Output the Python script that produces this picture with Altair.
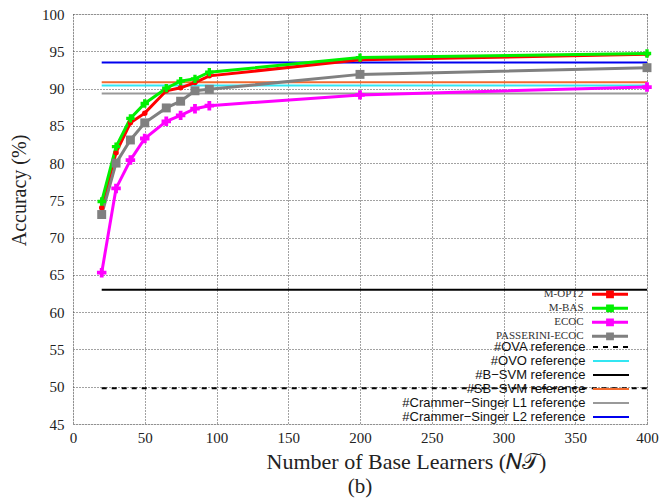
import altair as alt
import pandas as pd

# ---- data ----
learners = [20, 30, 40, 50, 65, 75, 85, 95, 200, 400]
models = ["M-OPT2", "M-BAS", "ECOC", "PASSERINI-ECOC"]
acc_mopt2 = [74.0, 81.4, 85.4, 86.7, 89.7, 90.1, 90.8, 91.7, 93.85, 94.6]
acc_mbas = [74.85, 82.2, 86.0, 88.0, 90.05, 91.0, 91.3, 92.2, 94.15, 94.7]
acc_ecoc = [65.3, 76.6, 80.4, 83.3, 85.6, 86.4, 87.3, 87.7, 89.15, 90.2]
acc_pass = [73.1, 80.0, 83.1, 85.4, 87.4, 88.3, 89.7, 89.9, 91.9, 92.8]

ref_names = ["#OVA reference", "#OVO reference", "#B\u2212SVM reference",
             "#SB\u2212SVM reference", "#Crammer\u2212Singer L1 reference",
             "#Crammer\u2212Singer L2 reference"]
ref_values = [49.8, 90.4, 63.0, 90.85, 89.35, 93.5]
ref_start = 20
ref_end = 400

x_ticks = list(range(0, 401, 50))
y_ticks = list(range(45, 101, 5))

model_colors = ["#ff0000", "#00f000", "#ff00ff", "#808080"]
model_shapes = ["circle", "cross", "cross", "square"]
model_sizes = [30, 70, 90, 80]
ref_colors = ["#000000", "#33e6f2", "#000000", "#f26a2e", "#999999", "#0000ee"]
ref_dashes = [[5, 5], [1, 0], [1, 0], [1, 0], [1, 0], [1, 0]]

rows = []
for name, vals in zip(models, [acc_mopt2, acc_mbas, acc_ecoc, acc_pass]):
    for x, y in zip(learners, vals):
        rows.append({"model": name, "n": x, "acc": y})
df = pd.DataFrame(rows)

ref_df = pd.DataFrame({"ref": ref_names, "acc": ref_values,
                       "x0": [ref_start] * len(ref_names),
                       "x1": [ref_end] * len(ref_names)})

SERIF = "Liberation Serif"

xscale = alt.Scale(domain=[0, 400], nice=False)
yscale = alt.Scale(domain=[45, 100], nice=False, zero=False)


def xaxis():
    return alt.Axis(values=x_ticks, title="Number of Base Learners (\U0001D441\U0001D4AF)",
                    labelFont=SERIF, labelFontSize=15, labelColor="#222",
                    titleFont=SERIF, titleFontSize=22, titleFontWeight="normal",
                    titleColor="#222", titlePadding=6, labelPadding=6,
                    titleX=333, titleAnchor="start", titleAlign="center",
                    ticks=False, domain=False, grid=True, gridColor="#444",
                    gridDash=[1, 2], gridWidth=1, labelFlush=False, labelOverlap=False)


def yaxis():
    return alt.Axis(values=y_ticks, title="Accuracy (%)",
                    labelFont=SERIF, labelFontSize=15, labelColor="#222",
                    titleFont=SERIF, titleFontSize=20, titleFontWeight="normal",
                    titleColor="#222", titlePadding=12, labelPadding=9,
                    titleY=176, titleAlign="center",
                    ticks=False, domain=False, grid=True, gridColor="#444",
                    gridDash=[1, 2], gridWidth=1, labelFlush=False, labelOverlap=False)


ref_path = "M-4.5,0L4.5,0"
model_path = "M-4.5,0L4.5,0M-0.6,-0.6L0.6,-0.6L0.6,0.6L-0.6,0.6Z"
NEG = {"expr": "-32"}
LEG_X = 531.5


def ref_legend():
    return alt.Legend(title=None, orient="none", legendX=LEG_X, legendY=326.5,
                      labelFont="Liberation Sans", labelFontSize=13,
                      labelColor="#111", labelAlign="right",
                      labelOffset=NEG, symbolType=ref_path,
                      symbolSize=64, symbolStrokeWidth=2,
                      rowPadding={"expr": "-1.4"}, padding=0, labelLimit=400)


refs = alt.Chart(ref_df).mark_rule(strokeWidth=2).encode(
    x=alt.X("x0:Q", scale=xscale, axis=xaxis()),
    x2="x1:Q",
    y=alt.Y("acc:Q", scale=yscale, axis=yaxis()),
    stroke=alt.Stroke("ref:N", scale=alt.Scale(domain=ref_names, range=ref_colors),
                      legend=ref_legend()),
    strokeDash=alt.StrokeDash("ref:N", scale=alt.Scale(domain=ref_names, range=ref_dashes),
                              legend=ref_legend()),
)

color_enc = alt.Color("model:N", scale=alt.Scale(domain=models, range=model_colors),
                      legend=alt.Legend(title=None, orient="none", legendX=LEG_X, legendY=274.8,
                                        labelFont=SERIF, labelFontSize=11, labelColor="#333",
                                        labelAlign="right", labelOffset=NEG,
                                        symbolType=model_path, symbolSize=64,
                                        symbolStrokeWidth=3, rowPadding={"expr": "-3.9"},
                                        padding=0, labelLimit=400))

lines = alt.Chart(df).mark_line(strokeWidth=3).encode(
    x=alt.X("n:Q", scale=xscale, axis=xaxis()),
    y=alt.Y("acc:Q", scale=yscale, axis=yaxis()),
    color=color_enc,
)

point_layers = []
for name, col, shp, sz in zip(models, model_colors, model_shapes, model_sizes):
    point_layers.append(
        alt.Chart(df).transform_filter(alt.datum.model == name)
        .mark_point(filled=True, opacity=1, color=col, shape=shp, size=sz)
        .encode(x=alt.X("n:Q", scale=xscale, axis=xaxis()),
                y=alt.Y("acc:Q", scale=yscale, axis=yaxis()))
    )

chart = alt.layer(refs, lines, *point_layers).properties(
    width=574, height=410,
    autosize=alt.AutoSizeParams(type="none"),
    padding={"left": 65, "top": 6, "right": 13, "bottom": 80},
    title=alt.Title("(b)", orient="bottom", font=SERIF, fontSize=21,
                    fontWeight="normal", color="#222", offset=4, anchor="middle"),
).configure_view(stroke="#000", strokeWidth=1.5).configure(background="white")

chart.save("out.html", embed_options={"renderer": "svg", "actions": False})
